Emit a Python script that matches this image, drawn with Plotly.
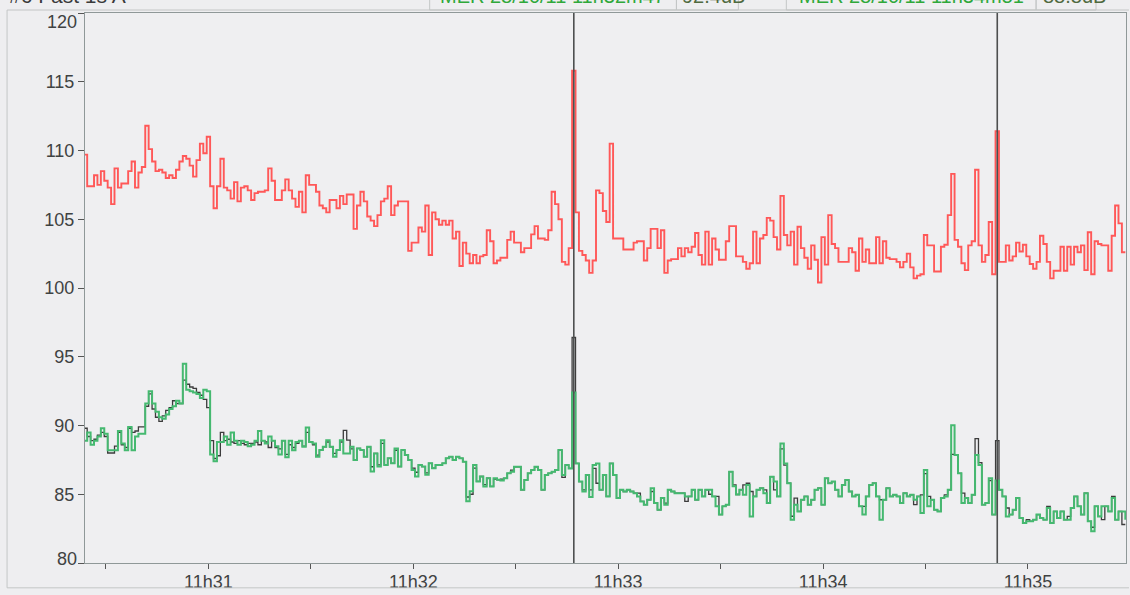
import plotly.graph_objects as go
import pandas as pd

# ---------------- data (1 s samples, dB) ----------------
sample_start = "2011-10-28 11:30:23.5"

red_level = [
    109.7, 107.4, 107.4, 108.2, 107.5, 108.5, 107.8, 107.3, 106.1, 108.7, 107.3, 107.6, 107.6, 108.5, 109.2, 107.3,
    108.4, 108.8, 111.8, 110.1, 109.2, 108.5, 108.6, 108.4, 108.0, 108.2, 108.0, 108.6, 109.2, 109.6, 109.4, 108.9,
    108.1, 109.3, 110.5, 109.8, 111.0, 107.4, 105.8, 107.4, 109.4, 107.3, 107.1, 106.5, 107.7, 106.3, 107.3, 107.4,
    107.1, 106.4, 106.9, 107.0, 107.0, 107.1, 108.7, 107.8, 106.4, 106.4, 107.1, 107.9, 107.1,
    106.5, 105.9, 107.0, 105.5, 108.2, 107.5, 107.5, 107.0, 106.0, 105.8, 105.5, 106.4, 106.4, 105.8, 106.7, 106.1,
    106.8, 106.8, 104.3, 106.0, 107.0, 106.3, 105.2, 104.9, 104.5, 105.3, 106.3, 106.5, 107.4, 105.3, 106.0, 106.3,
    106.3, 106.3, 102.7, 103.3, 103.3, 104.4, 104.1, 106.0, 102.4, 105.5, 105.0, 104.6, 104.9, 104.6, 104.9, 103.6,
    104.1, 101.6, 103.3, 102.5, 101.8, 102.4, 101.8, 102.3, 102.4, 104.2, 103.4, 101.8, 102.0, 102.2,
    102.2, 103.5, 104.1, 103.3, 103.3, 102.6, 102.9, 102.9, 103.9, 104.5, 103.6, 103.6, 103.5, 104.2, 107.0, 106.1,
    105.0, 101.9, 101.7, 102.9, 115.8, 105.5, 102.7, 102.4, 102.0, 101.1, 102.0, 107.1, 106.9, 105.6, 104.8, 110.5,
    103.6, 103.6, 103.6, 102.8, 102.8, 102.8, 103.3, 103.4, 103.4, 102.0, 102.9, 104.3, 104.3, 102.9, 104.2, 101.1,
    102.0, 102.1, 102.1, 102.9, 102.3, 102.9, 102.6, 103.0, 104.0, 102.4, 101.7, 104.1, 101.7, 103.6,
    102.8, 102.05, 102.05, 103.4, 104.5, 104.5, 102.3, 102.3, 101.9, 101.4, 101.8, 104.1, 101.8, 103.6, 103.85, 105.1,
    104.9, 103.7, 102.8, 106.7, 103.85, 103.1, 104.1, 101.7, 104.45, 102.9, 102.2, 101.4, 103.1, 102.05, 100.4, 103.7,
    101.7, 105.3, 103.2, 102.9, 101.9, 101.9, 101.9, 102.9, 102.6, 101.25, 103.6, 101.9, 102.8, 101.8, 101.8, 103.7,
    101.8, 103.4, 102.2, 102.1, 102.1, 101.9, 101.5, 101.9, 102.5, 101.5, 100.7, 100.9,
    101.0, 103.85, 103.1, 103.1, 101.2, 101.2, 103.0, 103.15, 105.3, 108.3, 103.5, 103.0, 101.8, 101.3, 103.1, 103.4,
    108.6, 103.1, 101.9, 102.4, 104.8, 101.0, 111.4, 101.9, 101.9, 103.1, 102.0, 102.3, 103.3, 102.65, 103.15, 102.3,
    101.75, 101.4, 101.9, 103.8, 103.2, 101.9, 100.7, 101.25, 101.25, 103.0, 101.25, 103.0, 101.7, 103.0, 102.6, 103.1,
    101.3, 104.05, 101.0, 103.4, 103.2, 103.1, 103.1, 101.25, 103.8, 106.0, 104.7, 102.6, 102.6,
]

green_level = [
    88.9, 89.5, 88.6, 88.9, 89.2, 89.8, 89.4, 88.2, 88.2, 88.2, 89.6, 88.7, 88.2, 89.9, 88.2, 89.2,
    89.4, 89.4, 91.6, 92.5, 91.6, 91.0, 90.6, 90.5, 90.8, 91.2, 91.4, 91.8, 91.6, 94.5, 92.6, 92.5,
    92.4, 92.3, 92.0, 92.6, 92.5, 87.9, 87.4, 88.8, 88.8, 89.2, 88.6, 89.5, 88.9, 88.6, 88.9, 88.8,
    88.5, 88.6, 88.9, 89.6, 88.9, 88.7, 89.2, 88.9, 88.5, 87.9, 88.9, 87.7, 88.9,
    88.2, 88.8, 88.9, 88.45, 89.85, 88.8, 88.7, 87.73, 88.21, 88.45, 88.93, 88.45, 87.73, 88.21, 88.93, 87.97,
    87.97, 88.45, 87.49, 88.33, 88.21, 87.73, 88.45, 86.65, 87.97, 87.01, 88.93, 87.13, 87.61, 87.25, 88.33, 87.01,
    88.21, 87.85, 87.49, 86.77, 86.29, 87.13, 87.01, 86.41, 87.25, 86.89, 87.13, 87.13, 87.25, 87.61, 87.73, 87.49,
    87.73, 87.61, 87.37, 84.49, 85.21, 87.13, 85.93, 86.29, 85.57, 86.17, 85.57, 86.17, 86.05, 86.0,
    86.16, 86.52, 86.64, 87.0, 87.0, 85.32, 86.04, 86.52, 86.76, 87.0, 86.76, 85.32, 86.4, 86.52, 86.64, 86.76,
    88.21, 86.4, 87.12, 86.88, 92.4, 87.24, 85.92, 85.2, 86.4, 84.8, 87.12, 87.24, 85.32, 86.4, 84.84, 87.24,
    86.4, 84.72, 85.32, 85.2, 85.32, 85.2, 85.08, 84.84, 84.48, 84.24, 84.6, 85.44, 84.36, 83.87, 84.72, 84.24,
    85.32, 85.2, 85.08, 85.08, 85.08, 84.84, 84.84, 85.32, 84.6, 85.32, 84.84, 85.32, 85.32, 84.84,
    84.12, 83.52, 84.12, 84.24, 86.64, 85.58, 84.98, 85.32, 84.96, 85.68, 83.39, 84.84, 85.32, 85.44, 85.08, 84.36,
    86.28, 85.92, 84.84, 88.69, 87.24, 85.8, 83.15, 84.24, 83.75, 84.6, 84.84, 84.24, 84.6, 85.32, 85.44, 84.24,
    86.16, 85.8, 85.92, 85.32, 84.84, 85.68, 86.04, 85.2, 84.84, 84.96, 84.12, 83.52, 84.84, 85.68, 85.8, 84.84,
    83.15, 84.6, 85.44, 84.84, 84.96, 84.84, 84.36, 85.08, 84.84, 84.96, 84.6, 84.84,
    83.63, 86.76, 84.12, 84.6, 83.87, 83.75, 84.72, 84.84, 85.32, 90.01, 87.85, 86.52, 84.36, 84.72, 84.36, 84.96,
    87.85, 87.12, 84.24, 84.36, 86.16, 83.52, 86.0, 85.32, 84.84, 83.39, 83.52, 83.87, 84.72, 83.27, 82.91, 83.03,
    83.03, 83.15, 83.52, 83.27, 83.15, 84.0, 82.91, 83.75, 83.27, 83.75, 83.15, 83.15, 84.0, 84.84, 84.12, 83.52,
    85.08, 83.03, 82.31, 84.12, 83.39, 84.12, 84.12, 83.75, 84.72, 83.15, 83.75, 83.75, 83.15,
]

dark_level = [
    89.8, 89.2, 88.9, 89.0, 89.3, 89.5, 89.2, 88.0, 88.0, 88.5, 89.5, 88.6, 88.4, 89.8, 89.5, 89.6,
    89.9, 89.9, 91.4, 92.3, 91.2, 90.6, 90.3, 90.7, 91.1, 91.3, 91.8, 91.6, 91.6, 93.3, 93.0, 92.8,
    92.7, 92.4, 92.2, 91.9, 91.3, 88.9, 87.6, 87.8, 89.5, 88.9, 89.0, 88.8, 88.7, 88.9, 88.7, 88.6,
    88.7, 88.7, 88.8, 88.6, 88.9, 88.8, 88.4, 88.9, 88.4, 88.3, 88.9, 87.9, 88.6,
    88.4, 88.7, 88.9, 88.5, 89.5, 88.8, 88.6, 87.85, 88.21, 88.45, 88.8, 88.45, 87.97, 88.21, 88.8, 89.65,
    88.93, 88.3, 87.49, 88.33, 88.21, 87.73, 88.45, 87.0, 87.97, 87.13, 88.7, 87.13, 87.61, 87.25, 88.2, 87.01,
    88.21, 87.85, 87.49, 86.9, 86.6, 87.13, 87.01, 86.55, 87.25, 86.89, 87.13, 87.13, 87.25, 87.61, 87.73, 87.49,
    87.73, 87.61, 87.37, 84.8, 85.0, 86.9, 85.93, 86.29, 85.7, 86.17, 85.57, 86.1, 86.05, 86.1,
    86.16, 86.52, 86.76, 87.0, 87.0, 85.32, 86.04, 86.52, 86.76, 87.0, 86.76, 85.32, 86.4, 86.52, 86.64, 86.76,
    88.21, 86.23, 87.12, 86.88, 96.4, 87.24, 85.92, 85.32, 86.4, 85.32, 86.88, 85.8, 85.32, 86.4, 84.84, 87.24,
    86.4, 84.72, 85.32, 85.2, 85.32, 85.2, 85.08, 85.08, 84.48, 84.24, 84.6, 85.2, 84.36, 83.87, 84.72, 84.36,
    85.32, 85.2, 85.08, 85.08, 85.08, 84.48, 84.84, 85.32, 84.6, 85.32, 84.84, 85.32, 85.0, 84.84,
    84.84, 83.52, 84.12, 84.24, 86.64, 85.68, 84.98, 85.32, 85.68, 85.8, 85.2, 84.84, 85.32, 85.44, 85.32, 84.36,
    86.28, 85.32, 84.84, 88.3, 87.12, 85.8, 83.4, 84.72, 83.75, 84.6, 84.84, 84.24, 84.6, 85.32, 85.44, 84.24,
    86.16, 85.8, 85.92, 85.32, 84.84, 85.68, 86.04, 85.2, 84.84, 84.96, 84.12, 84.12, 84.84, 85.68, 85.8, 84.84,
    84.6, 84.6, 85.44, 84.84, 84.96, 84.84, 84.36, 85.08, 84.84, 84.96, 84.24, 84.84,
    84.96, 86.5, 84.84, 84.6, 83.87, 83.75, 84.72, 84.96, 85.32, 87.9, 87.85, 86.52, 85.08, 84.72, 84.36, 84.96,
    89.05, 87.3, 84.24, 84.36, 86.0, 83.52, 88.9, 85.32, 84.84, 84.0, 83.52, 83.87, 84.72, 83.27, 82.91, 83.15,
    83.03, 83.15, 83.52, 83.27, 83.15, 84.12, 82.91, 83.75, 83.27, 83.75, 83.15, 83.39, 84.0, 84.84, 84.12, 83.52,
    85.08, 83.03, 82.6, 84.12, 83.39, 83.15, 84.12, 83.75, 84.84, 83.15, 83.75, 82.8, 82.8,
]

cursor_times = ["2011-10-28 11:32:47", "2011-10-28 11:34:51"]
cursor_labels = ["MER 28/10/11 11h32m47", "MER 28/10/11 11h34m51"]
cursor_values = ["92.4dB", "88.8dB"]
header_title = "#6 Fast 1s A"

y_ticks = [80, 85, 90, 95, 100, 105, 110, 115, 120]
x_tick_times = ["2011-10-28 11:30:30", "2011-10-28 11:31:00", "2011-10-28 11:31:30", "2011-10-28 11:32:00",
                "2011-10-28 11:32:30", "2011-10-28 11:33:00", "2011-10-28 11:33:30", "2011-10-28 11:34:00",
                "2011-10-28 11:34:30", "2011-10-28 11:35:00"]
x_tick_labels = ["", "11h31", "", "11h32", "", "11h33", "", "11h34", "", "11h35"]
x_range = ["2011-10-28 11:30:23.86", "2011-10-28 11:35:28.7"]

# ---------------- figure ----------------
W, H = 1130, 595
ML, MR, MT, MB = 85, 3, 13, 28
PW, PH = W - ML - MR, H - MT - MB


def px(xp):
    return (xp - ML) / PW


def py(yp):
    return (H - MB - yp) / PH


t_red = pd.date_range(sample_start, periods=len(red_level), freq="1s")
t_green = pd.date_range(sample_start, periods=len(green_level), freq="1s")
t_dark = pd.date_range(sample_start, periods=len(dark_level), freq="1s")

fig = go.Figure()
fig.add_trace(go.Scatter(x=t_red, y=red_level, mode="lines", line=dict(color="#FF5858", width=1.9, shape="hv"),
                         showlegend=False, hoverinfo="skip"))
fig.add_trace(go.Scatter(x=t_dark, y=dark_level, mode="lines", line=dict(color="#3c3c3c", width=1.3, shape="hv"),
                         showlegend=False, hoverinfo="skip"))
fig.add_trace(go.Scatter(x=t_green, y=green_level, mode="lines", line=dict(color="#45B970", width=2, shape="hv"),
                         showlegend=False, hoverinfo="skip"))

shapes = []
for ct in cursor_times:
    shapes.append(dict(type="line", xref="x", yref="paper", x0=ct, x1=ct, y0=0, y1=1,
                       line=dict(color="#4d4f4f", width=1.6), layer="above"))

frame_col = "#c3c6c6"
# outer panel frame
shapes.append(dict(type="line", xref="paper", yref="paper", x0=px(7), x1=px(7), y0=py(10), y1=py(592),
                   line=dict(color=frame_col, width=1)))
shapes.append(dict(type="line", xref="paper", yref="paper", x0=px(7), x1=px(1130), y0=py(10), y1=py(10),
                   line=dict(color=frame_col, width=1)))
shapes.append(dict(type="line", xref="paper", yref="paper", x0=px(7), x1=px(1130), y0=py(592), y1=py(592),
                   line=dict(color=frame_col, width=1)))
# header boxes
for x0b, x1b in [(430, 677), (677, 739), (787, 1037), (1037, 1097)]:
    shapes.append(dict(type="rect", xref="paper", yref="paper", x0=px(x0b), x1=px(x1b), y0=py(10), y1=py(-10),
                       line=dict(color=frame_col, width=1), fillcolor="rgba(0,0,0,0)"))

hdr_font = "Liberation Sans, Arial"
annotations = [
    dict(text=header_title, xref="paper", yref="paper", x=px(7), y=py(9), xanchor="left", yanchor="bottom",
         showarrow=False, font=dict(size=21, color="#3a3a3a", family=hdr_font)),
    dict(text=cursor_labels[0], xref="paper", yref="paper", x=px(553), y=py(9), xanchor="center", yanchor="bottom",
         showarrow=False, font=dict(size=20, color="#2fa83a", family=hdr_font)),
    dict(text=cursor_values[0], xref="paper", yref="paper", x=px(681), y=py(9), xanchor="left", yanchor="bottom",
         showarrow=False, font=dict(size=20, color="#4f6a3f", family=hdr_font)),
    dict(text=cursor_labels[1], xref="paper", yref="paper", x=px(912), y=py(9), xanchor="center", yanchor="bottom",
         showarrow=False, font=dict(size=20, color="#2fa83a", family=hdr_font)),
    dict(text=cursor_values[1], xref="paper", yref="paper", x=px(1042), y=py(9), xanchor="left", yanchor="bottom",
         showarrow=False, font=dict(size=20, color="#4f6a3f", family=hdr_font)),
]

axis_font = dict(size=18, color="#3f4242", family="Liberation Sans, Arial")

# end labels of the y axis sit a little inside the frame, as in the reference
y_tick_text = [str(v) for v in y_ticks]
end_shift = {y_ticks[0]: 4, y_ticks[-1]: -9}
for v, s in end_shift.items():
    y_tick_text[y_ticks.index(v)] = ""
    annotations.append(dict(text=str(v), xref="paper", yref="y", x=px(79), y=v, yshift=s,
                            xanchor="right", yanchor="middle", showarrow=False, font=axis_font))

fig.update_layout(
    width=W, height=H,
    margin=dict(l=ML, r=MR, t=MT, b=MB, pad=0),
    paper_bgcolor="#EEEEF0",
    plot_bgcolor="#EFEFF1",
    shapes=shapes,
    annotations=annotations,
    xaxis=dict(type="date", range=x_range, tickmode="array", tickvals=x_tick_times, ticktext=x_tick_labels,
               ticks="outside", ticklen=5, tickwidth=1, tickcolor="#555", showgrid=False, zeroline=False,
               showline=True, linecolor="#8f9898", linewidth=1, mirror=True, tickfont=axis_font,
               ticklabelstandoff=-3, fixedrange=True),
    yaxis=dict(range=[80, 120], tickmode="array", tickvals=y_ticks, ticktext=y_tick_text,
               ticks="outside", ticklen=6, tickwidth=1, tickcolor="#555", showgrid=False, zeroline=False,
               showline=True, linecolor="#8f9898", linewidth=1, mirror=True, tickfont=axis_font,
               fixedrange=True),
)

page_js = ("document.body.style.margin='0px';document.body.style.padding='0px';"
           "document.body.style.overflow='hidden';document.body.style.background='#EEEEF0';"
           "document.documentElement.style.background='#EEEEF0';")
fig.write_html("out.html", post_script=page_js, config={"displayModeBar": False, "staticPlot": True})
